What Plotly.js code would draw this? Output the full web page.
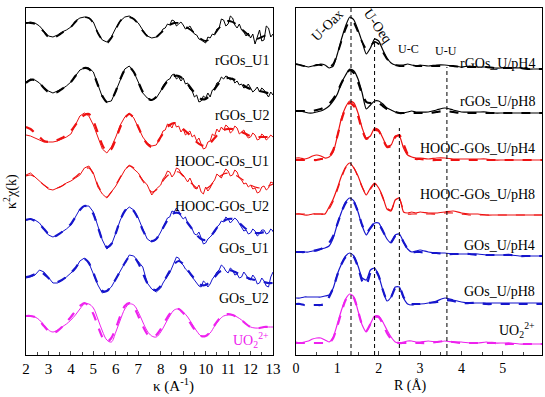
<!DOCTYPE html>
<html><head><meta charset="utf-8">
<script src="https://cdn.plot.ly/plotly-3.0.1.min.js"></script>
<style>body{margin:0;background:#fff}</style>
</head><body><div id="chart" style="width:545px;height:397px"></div>
<script>
// ---- k-space (left panel) ----
// smooth grid (fits and UO2 data)
const kGrid = [2.0,2.2,2.4,2.6,2.8,3.0,3.2,3.4,3.6,3.8,4.0,4.2,4.4,4.6,4.8,5.0,5.2,5.4,5.6,5.8,6.0,6.2,6.4,6.6,6.8,7.0,7.2,7.4,7.6,7.8,8.0,8.2,8.4,8.6,8.8,9.0,9.2,9.4,9.6,9.8,10.0,10.2,10.4,10.6,10.8,11.0,11.2,11.4,11.6,11.8,12.0,12.2,12.4,12.6,12.8,13.0];
// denser grid for the noisy measured spectra
const kGridNoisy = [2.0,2.2,2.4,2.6,2.8,3.0,3.2,3.4,3.6,3.8,4.0,4.2,4.4,4.6,4.8,5.0,5.2,5.4,5.6,5.8,6.0,6.2,6.4,6.6,6.8,7.0,7.2,7.4,7.6,7.8,
  8.0,8.1,8.2,8.3,8.4,8.5,8.6,8.7,8.8,8.9,9.0,9.1,9.2,9.3,9.4,9.5,9.6,9.7,9.8,9.9,10.0,10.1,10.2,10.3,10.4,10.5,10.6,10.7,10.8,10.9,11.0,11.1,11.2,11.3,11.4,11.5,11.6,11.7,11.8,11.9,12.0,12.1,12.2,12.3,12.4,12.5,12.6,12.7,12.8,12.9,13.0];
const kNames = ["rGOs_U1","rGOs_U2","HOOC-GOs_U1","HOOC-GOs_U2","GOs_U1","GOs_U2","UO<sub>2</sub><sup>2+</sup>"];
const kOffsets = [327,270,222,175,130,80,33];
const kData1 = [5,6,5,2,-3,-8,-9,-7,-4,-2, 1,7,10,11,10,6,-5,-12,-14,-9, 0,7,11,12,9,5,-2,-8,-10,-9,
  -5,-1,0,4,3,8,7,2,4,6, 3,-1,0,2,-2,-6,-7,-11,-12,-14, -15,-9,-10,-6,-7,-1,0,9,8,2, 4,12,10,3,0,4,-2,-4,-8,-5, -10,-6,-16,-9,-2,-13,-12,2,0,-9, -6];
const kFit1  = [5,5,4,1,-4,-9,-10,-8,-5,-2, 1,6,10,11,10,5,-5,-12,-15,-10, -1,7,11,11,9,4,-3,-8,-10,-9, -5,-1,3,5,5,3,0,-3,-7,-11, -13,-11,-6,0,5,7,6,3,-1,-5, -9,-11,-10,-8,-6,-5];
const kData2 = [3,6,5,2,-3,-6,-8,-6,-4,-1, 3,9,15,17,17,13,0,-12,-17,-16, -6,6,16,19,13,3,-8,-13,-15,-13,
  -6,-1,2,5,6,10,11,6,8,4, 7,1,2,-4,-6,-12,-10,-17,-16,-11, -13,-8,-12,-5,-4,2,3,8,6,9, 8,5,7,2,4,0,1,-3,-2,1, -3,-7,-5,-2,-7,-3,-5,-9,-12,-7, -10];
const kFit2  = [2,5,5,2,-3,-7,-8,-7,-4,-1, 3,9,14,17,16,11,0,-11,-17,-15, -6,6,15,18,13,3,-7,-13,-15,-12, -6,1,6,9,9,6,1,-5,-10,-14, -14,-10,-4,2,6,7,6,4,1,-2, -4,-5,-6,-7,-8,-8];
const kData3 = [-2,-3,-5,-7,-9,-9,-9,-8,-6,-4, -1,8,17,20,17,8,-5,-16,-20,-14, -4,8,16,20,15,6,-4,-10,-13,-12,
  -4,2,3,9,8,5,11,6,7,1, 4,-2,0,2,-4,-2,-8,-5,-11,-16, -15,-9,-8,-1,-3,4,1,6,3,8, 6,0,2,7,5,-1,1,3,-2,-5, -4,0,-2,-7,-6,-1,-3,-7,-5,-2, -4];
const kFit3  = [6,4,0,-4,-8,-9,-9,-7,-5,-2, 2,8,14,18,19,12,0,-12,-19,-16, -6,6,15,19,15,6,-4,-11,-14,-11, -4,3,8,10,8,4,0,-4,-9,-12, -13,-10,-5,0,3,4,4,3,1,-1, -3,-4,-4,-4,-4,-4];
const kData4 = [5,7,3,-1,-5,-9,-10,-8,-6,-3, -1,2,5,12,14,7,-7,-14,-18,-12, -6,2,10,15,11,7,0,-5,-15,-9,
  -5,1,4,9,8,3,6,12,11,7, 5,1,-2,2,-3,-8,-9,-5,-12,-14, -7,-11,-8,-3,0,6,4,2,7,11, 9,4,5,10,8,2,0,-4,-3,-7, -5,-9,-8,-13,-12,-7,-6,-10,-8,-2, -3];
const kFit4  = [4,5,3,-1,-5,-8,-9,-8,-6,-3, 0,3,7,11,12,6,-5,-13,-17,-12, -5,3,10,14,12,6,-1,-7,-12,-10, -4,2,6,8,8,4,0,-4,-8,-10, -9,-6,-1,3,6,7,6,4,1,-2, -5,-7,-8,-8,-6,-4];
const kData5 = [5,6,5,2,-4,-10,-12,-10,-7,-4, 0,8,16,19,19,13,0,-15,-24,-20, -8,5,14,18,15,7,-4,-14,-17,-15,
  -7,-2,2,7,8,14,13,17,14,9, 6,8,2,-1,-4,-9,-10,-7,-13,-19, -18,-14,-12,-9,-7,-2,0,4,3,8, 6,2,4,7,5,1,-2,-6,-5,-9, -8,-4,-6,-11,-9,-5,-5,-9,-8,-4, -6];
const kFit5  = [5,6,4,1,-4,-9,-12,-10,-7,-3, 1,8,15,19,18,11,-2,-15,-22,-19, -8,5,14,18,14,6,-5,-13,-16,-14, -7,1,8,12,12,8,2,-4,-10,-14, -15,-12,-6,0,4,6,6,4,0,-4, -7,-8,-8,-7,-6,-6];
const kData6 = [-3,-2,0,5,3,-3,-8,-8,-5,-2, 2,6,14,17,12,0,-10,-18,-16,-12, -4,3,12,20,19,14,8,-8,-14,-17,
  -13,-8,-4,-1,2,8,12,18,17,12, 10,6,4,1,-2,-5,-7,-11,-12,-6, -8,-12,-9,-4,-1,3,5,10,8,4, 2,7,5,0,1,-3,-2,3,0,-4, -5,0,-3,-9,-8,-3,-6,-11,-12,-2, 3];
const kFit6  = [-2,-1,1,3,1,-3,-7,-7,-5,-2, 2,7,13,16,12,2,-9,-16,-16,-11, -4,4,12,18,18,12,2,-8,-14,-15, -11,-4,4,11,14,11,5,-1,-6,-10, -10,-7,-2,3,5,5,4,2,0,-2, -4,-5,-6,-7,-8,-8];
const kData7 = [6,6,5,2,-3,-8,-10,-8,-5,-2, 2,7,13,18,18,14,3,-9,-18,-20, -10,2,13,18,17,10,0,-9,-14,-15, -10,-2,6,12,13,10,5,-2,-9,-14, -14,-11,-4,2,6,7,7,5,2,-2, -5,-6,-6,-5,-5,-5];
const kFit7  = [6,6,5,1,-4,-9,-11,-9,-5,0, 5,11,16,19,16,8,-4,-15,-20,-16, -6,6,16,19,15,6,-4,-12,-15,-13, -7,1,8,13,13,9,3,-4,-10,-14, -14,-10,-3,3,7,8,7,5,2,-2, -5,-6,-6,-5,-5,-5];

// ---- R-space (right panel) ----
const rGrid = [0,0.1,0.2,0.3,0.4,0.5,0.6,0.7,0.8,0.9,1.0,1.1,1.2,1.3,1.4,1.5,1.6,1.7,1.8,1.9,2.0,2.1,2.2,2.3,2.4,2.5,2.6,2.7,2.8,2.9,3.0,3.2,3.4,3.6,3.8,4.0,4.2,4.4,4.6,4.8,5.0,5.2,5.4,5.6,5.8,5.95];
const rNames = ["rGOs_U/pH4","rGOs_U/pH8","HOOC-GOs_U/pH4","HOOC-GOs_U/pH8","GOs_U/pH4","GOs_U/pH8","UO<sub>2</sub><sup>2+</sup>"];
const rOffsets = [289,244,197,141,103,55,13];
const rData1 = [2,1,0,-1,0,1,2,1,-2,0, 12,27,40,49,46,36,24,12,18,27, 25,16,8,3,1,1,1,2,1,0, 1, 0,1,1,0,-1,0,-1,-1,-2,-2,-2,-2,-3,-3,-3];
const rFit1  = [2,1,0,0,0,1,1,0,-1,2, 12,25,37,45,43,34,24,17,20,24, 22,14,7,3,1,0,0,1,1,0, 0, 0,0,0,0,-1,-1,-1,-1,-2,-2,-2,-2,-3,-3,-3];
const rData2 = [0,0,-1,-2,-2,-1,0,2,5,10, 17,28,36,42,40,32,18,2,6,10, 10,7,3,1,-1,-2,-2,-1,0,-1, -1, -1,1,3,1,-1,-1,-1,-1,-2,-2,-2,-2,-2,-2,-2];
const rFit2  = [0,0,0,0,0,1,2,4,7,12, 19,28,36,41,38,29,17,9,8,9, 8,5,2,0,-1,-2,-2,-2,-2,-2, -2, -2,-1,0,-1,-2,-2,-2,-2,-2,-2,-2,-2,-2,-2,-2];
const rData3 = [0,0,-1,0,2,3,2,0,1,6, 22,40,51,57,55,45,30,20,22,30, 28,20,12,13,22,22,10,3,1,0, 0, -1,0,0,-1,-1,-1,-1,-1,-2,-2,-2,-2,-2,-2,-2];
const rFit3  = [-2,-2,-2,-2,-2,-2,-1,-1,1,8, 22,38,50,55,52,42,28,19,22,28, 27,19,11,12,21,23,14,4,0,-1, -1, -2,-2,-2,-2,-2,-2,-2,-2,-2,-2,-2,-2,-2,-2,-2];
const rData4 = [0,0,-1,-1,0,0,0,0,7,15, 26,38,47,51,46,38,27,19,26,31, 26,17,5,3,14,16,2,1,2,1, 2, 1,1,2,3,1,0,0,-1,-1,-1,-1,-1,-1,-1,-1];
const rFit4  = [0,0,0,0,0,0,0,0,5,13, 24,36,46,50,46,37,27,20,25,30, 26,16,6,4,13,15,4,0,0,0, 0, 0,0,1,1,0,-1,-1,-1,-1,-1,-1,-1,-1,-1,-1];
const rData5 = [0,0,0,0,1,1,3,4,6,14, 28,40,50,54,51,40,26,17,24,29, 29,21,13,9,17,18,10,3,0,1, 2, 0,-1,-1,-2,-2,-2,-2,-3,-3,-3,-3,-4,-4,-4,-4];
const rFit5  = [0,0,0,1,1,2,3,5,9,16, 28,40,49,53,50,40,27,19,24,29, 28,21,13,10,16,17,10,3,0,0, 0, -1,-1,-2,-2,-2,-2,-3,-3,-3,-3,-3,-4,-4,-4,-4];
const rData6 = [2,2,3,3,3,3,3,4,5,12, 26,36,44,47,44,34,22,20,30,32, 24,10,-1,3,13,13,2,-4,-5,-4, -4, -3,-1,2,0,-2,-3,-3,-3,-3,-3,-3,-3,-3,-3,-3];
const rFit6  = [-4,-4,-5,-5,-5,-5,-5,-4,3,12, 25,36,43,46,43,33,19,15,27,31, 24,10,0,3,12,13,3,-3,-4,-4, -4, -3,-2,0,-1,-3,-3,-3,-4,-4,-4,-4,-4,-4,-4,-4];
const rData7 = [0,-1,0,1,3,4,4,2,0,5, 18,32,43,48,45,31,17,10,18,26, 26,20,12,5,0,-1,0,1,1,0, 0, 1,0,1,0,0,-1,-1,0,-1,-1,-1,-2,-2,-2,-2];
const rFit7  = [-1,-1,-1,-1,-1,-1,-1,-1,-1,4, 16,30,42,47,44,31,17,11,18,25, 25,18,9,3,0,-1,-1,-1,-1,-1, -1, -1,0,1,0,-1,-1,-1,-1,-1,-2,-2,-2,-2,-2,-2];

// shell distances (dashed guide lines) and their upper ends
const shellR = [1.33, 1.9, 2.5, 3.65];
const shellTop = [347, 317, 227, 288];
const shellLabels = ["U-Oax","U-Oeq","U-C","U-U"];

const colors = ["#000000","#000000","#ee1111","#ee1111","#1515cc","#1515cc","#ee22ee"];
const kDataAll = [kData1,kData2,kData3,kData4,kData5,kData6,kData7];
const kFitAll = [kFit1,kFit2,kFit3,kFit4,kFit5,kFit6,kFit7];
const rDataAll = [rData1,rData2,rData3,rData4,rData5,rData6,rData7];
const rFitAll = [rFit1,rFit2,rFit3,rFit4,rFit5,rFit6,rFit7];
const fitW = [1.8,2.2,2.2,1.2,2.2,2.2,2.2];

const traces = [];
for (let i=0;i<7;i++){
  const kx = (i===6) ? kGrid : kGridNoisy;
  traces.push({x:kx, y:kDataAll[i].map(v=>v+kOffsets[i]), xaxis:'x', yaxis:'y', mode:'lines',
    line:{color:colors[i], width:1, shape: i===6 ? 'spline' : 'linear'}, hoverinfo:'skip'});
  traces.push({x:kGrid, y:kFitAll[i].map(v=>v+kOffsets[i]), xaxis:'x', yaxis:'y', mode:'lines',
    line:{color:colors[i], width:fitW[i], dash:'dash', shape:'spline', smoothing:0.8}, hoverinfo:'skip'});
  traces.push({x:rGrid, y:rDataAll[i].map(v=>v+rOffsets[i]), xaxis:'x2', yaxis:'y2', mode:'lines',
    line:{color:colors[i], width:1.2, shape:'spline', smoothing:0.6}, hoverinfo:'skip'});
  traces.push({x:rGrid, y:rFitAll[i].map(v=>v+rOffsets[i]), xaxis:'x2', yaxis:'y2', mode:'lines',
    line:{color:colors[i], width:fitW[i], dash:'dash', shape:'spline', smoothing:0.6}, hoverinfo:'skip'});
}

const FONT = 'Liberation Serif, Times New Roman, serif';
const axBase = {showline:true, mirror:true, linecolor:'black', linewidth:1, showgrid:false, zeroline:false};
const annotations = [];
const kLabelY = [295,240,194,149,107,57,15];
const rLabelY = [292,254,207,161,110,64,25];
for (let i=0;i<7;i++){
  annotations.push({x:12.92, y:kLabelY[i], xref:'x', yref:'y', text:kNames[i], showarrow:false, xanchor:'right', yanchor:'middle',
    font:{family:FONT, size:14, color: i===6 ? colors[6] : 'black'}});
  annotations.push({x:5.83, y:rLabelY[i], xref:'x2', yref:'y2', text:rNames[i], showarrow:false, xanchor:'right', yanchor:'middle',
    font:{family:FONT, size:14, color:'black'}});
}
annotations.push({x:0.75, y:330, xref:'x2', yref:'y2', text:shellLabels[0], showarrow:false, textangle:-45, font:{family:FONT,size:14}});
annotations.push({x:1.99, y:329, xref:'x2', yref:'y2', text:shellLabels[1], showarrow:false, textangle:55, font:{family:FONT,size:14}});
annotations.push({x:2.72, y:306, xref:'x2', yref:'y2', text:shellLabels[2], showarrow:false, font:{family:FONT,size:12}});
annotations.push({x:3.62, y:304, xref:'x2', yref:'y2', text:shellLabels[3], showarrow:false, font:{family:FONT,size:12}});
annotations.push({x:0.242, y:-0.088, xref:'paper', yref:'paper', text:'κ (A<sup>-1</sup>)', showarrow:false, yanchor:'middle', font:{family:FONT,size:15}});
annotations.push({x:0.781, y:-0.088, xref:'paper', yref:'paper', text:'R (Å)', showarrow:false, yanchor:'middle', font:{family:FONT,size:14}});
annotations.push({x:-0.029, y:0.47, xref:'paper', yref:'paper', text:'κ<sup>2</sup>χ(k)', showarrow:false, textangle:-90, xanchor:'center', yanchor:'middle', font:{family:FONT,size:14}});

const shapes = shellR.map((r,i)=>({type:'line', xref:'x2', yref:'y2', x0:r, x1:r, y0:0, y1:shellTop[i],
  line:{color:'black', width:1, dash:'4px,3px'}}));

const layout = {
  width:545, height:397, margin:{l:26, r:3, t:8, b:42},
  paper_bgcolor:'white', plot_bgcolor:'white', showlegend:false,
  font:{family:FONT, size:15, color:'black'},
  xaxis:Object.assign({}, axBase, {domain:[0,0.4787], range:[2,13], dtick:1, tick0:2, ticks:'inside', ticklen:4,
    minor:{ticks:'inside', ticklen:3, dtick:0.5, showgrid:false}, tickfont:{family:FONT,size:15}, anchor:'y'}),
  yaxis:Object.assign({}, axBase, {domain:[0,1], range:[0,347], showticklabels:false, ticks:'', anchor:'x'}),
  xaxis2:Object.assign({}, axBase, {domain:[0.5233,1], range:[0,5.95], dtick:1, tick0:0, ticks:'inside', ticklen:4,
    minor:{ticks:'inside', ticklen:3, dtick:0.5, showgrid:false}, tickfont:{family:FONT,size:14}, anchor:'y2'}),
  yaxis2:Object.assign({}, axBase, {domain:[0,1], range:[0,347], showticklabels:false, ticks:'', anchor:'x2'}),
  annotations:annotations, shapes:shapes
};
Plotly.newPlot('chart', traces, layout, {displayModeBar:false, staticPlot:true});
</script></body></html>
